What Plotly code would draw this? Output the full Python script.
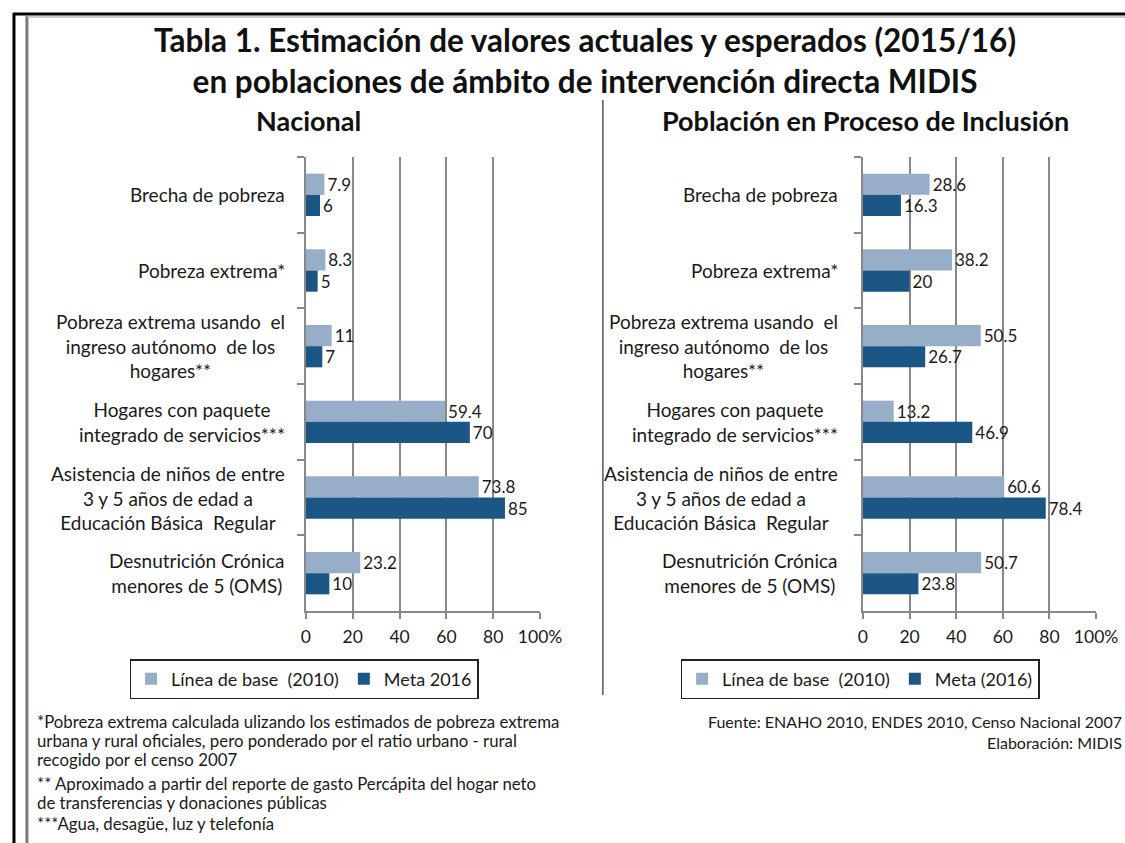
import plotly.graph_objects as go

# Reference picture size; the figure is drawn slightly wider so that it fills the
# photographed viewport horizontally.
RW, RH = 1125, 843
W, H = 1148, 843

categories = [
    "Brecha de pobreza",
    "Pobreza extrema*",
    "Pobreza extrema usando  el<br>ingreso autónomo  de los<br>hogares**",
    "Hogares con paquete<br>integrado de servicios***",
    "Asistencia de niños de entre<br>3 y 5 años de edad a<br>Educación Básica  Regular",
    "Desnutrición Crónica<br>menores de 5 (OMS)",
]

nac_base = [7.9, 8.3, 11, 59.4, 73.8, 23.2]
nac_meta = [6, 5, 7, 70, 85, 10]
inc_base = [28.6, 38.2, 50.5, 13.2, 60.6, 50.7]
inc_meta = [16.3, 20, 26.7, 46.9, 78.4, 23.8]

x_ticks = [0, 20, 40, 60, 80, 100]
x_tick_labels = ["0", "20", "40", "60", "80", "100%"]

LIGHT = "#97aec8"
DARK = "#1b5685"
GRID = "#888888"
TXT = "#1a1a1a"
FONT = "Lato"


def px(x):
    return x / RW


def py(y):
    return 1 - y / RH


fig = go.Figure()

fig.add_trace(go.Bar(y=categories, x=nac_base, orientation="h", name="Línea de base  (2010)",
                     marker=dict(color=LIGHT), text=[str(v) for v in nac_base],
                     textposition="outside", cliponaxis=False, constraintext="none",
                     xaxis="x", yaxis="y", legend="legend"))
fig.add_trace(go.Bar(y=categories, x=nac_meta, orientation="h", name="Meta 2016",
                     marker=dict(color=DARK), text=[str(v) for v in nac_meta],
                     textposition="outside", cliponaxis=False, constraintext="none",
                     xaxis="x", yaxis="y", legend="legend"))
fig.add_trace(go.Bar(y=categories, x=inc_base, orientation="h", name="Línea de base  (2010)",
                     marker=dict(color=LIGHT), text=[str(v) for v in inc_base],
                     textposition="outside", cliponaxis=False, constraintext="none",
                     xaxis="x2", yaxis="y2", legend="legend2"))
fig.add_trace(go.Bar(y=categories, x=inc_meta, orientation="h", name="Meta (2016)",
                     marker=dict(color=DARK), text=[str(v) for v in inc_meta],
                     textposition="outside", cliponaxis=False, constraintext="none",
                     xaxis="x2", yaxis="y2", legend="legend2"))

fig.update_traces(textfont=dict(family=FONT, size=17, color=TXT), marker_line_width=0)

ydom = [py(611), py(157)]
xcommon = dict(range=[0, 100], tickvals=x_ticks, ticktext=x_tick_labels, showgrid=True,
               gridcolor=GRID, gridwidth=2, showline=True, linecolor=GRID, linewidth=2,
               ticks="outside", ticklen=6, tickwidth=2, tickcolor=GRID, zeroline=False,
               tickfont=dict(family=FONT, size=17.5, color=TXT), ticklabelstandoff=3,
               fixedrange=True)
ycommon = dict(autorange="reversed", showgrid=False, showline=True, linecolor=GRID,
               linewidth=2, ticks="outside", ticklen=7, tickwidth=2, tickcolor=GRID,
               tickson="boundaries", showticklabels=False, domain=ydom, fixedrange=True)

legend_common = dict(orientation="h", xanchor="left", yanchor="top",
                     bordercolor="#222222", borderwidth=1.5, bgcolor="white",
                     font=dict(family=FONT, size=18, color=TXT), itemclick=False,
                     itemdoubleclick=False, itemwidth=30, tracegroupgap=0)

fig.update_layout(
    width=W, height=H, autosize=False,
    margin=dict(l=0, r=0, t=0, b=0),
    paper_bgcolor="white", plot_bgcolor="white",
    barmode="group", bargap=0.44, bargroupgap=0,
    xaxis=dict(domain=[px(302), px(537)], anchor="y", **xcommon),
    yaxis=dict(anchor="x", **ycommon),
    xaxis2=dict(domain=[px(861), px(1095)], anchor="y2", **xcommon),
    yaxis2=dict(anchor="x2", **ycommon),
    legend=dict(x=px(125), y=py(659), **legend_common),
    legend2=dict(x=px(678), y=py(659), **legend_common),
    showlegend=True,
)

annotations = []
# Titles
annotations.append(dict(text="<b>Tabla 1. Estimación de valores actuales y esperados (2015/16)</b>"
                             "<br><b>en poblaciones de ámbito de intervención directa MIDIS</b>",
                        x=px(582), y=py(61), xref="paper", yref="paper", showarrow=False,
                        xanchor="center", yanchor="middle", align="center",
                        font=dict(family=FONT, size=31.5, color="#111111")))
annotations.append(dict(text="<b>Nacional</b>", x=px(305), y=py(121), xref="paper", yref="paper",
                        showarrow=False, xanchor="center", yanchor="middle",
                        font=dict(family=FONT, size=27, color="#111111")))
annotations.append(dict(text="<b>Población en Proceso de Inclusión</b>", x=px(864), y=py(121),
                        xref="paper", yref="paper", showarrow=False, xanchor="center",
                        yanchor="middle", font=dict(family=FONT, size=27, color="#111111")))

# Category labels (centered multi-line, right anchored)
for cat in categories:
    annotations.append(dict(text=cat, x=px(283), y=cat, xref="paper", yref="y", showarrow=False,
                            xanchor="right", yanchor="middle", align="center",
                            font=dict(family=FONT, size=19, color=TXT)))
    annotations.append(dict(text=cat, x=px(838), y=cat, xref="paper", yref="y2", showarrow=False,
                            xanchor="right", yanchor="middle", align="center",
                            font=dict(family=FONT, size=19, color=TXT)))

# Footnotes
notes = [
    ("*Pobreza extrema calculada ulizando los estimados de pobreza extrema", 721),
    ("urbana y rural oficiales, pero ponderado por el ratio urbano - rural", 740),
    ("recogido por el censo 2007", 759),
    ("** Aproximado a partir del reporte de gasto Percápita del hogar neto", 783),
    ("de transferencias y donaciones públicas", 802),
    ("***Agua, desagüe, luz y telefonía", 823),
]
for t, yy in notes:
    annotations.append(dict(text=t, x=px(30), y=py(yy), xref="paper", yref="paper",
                            showarrow=False, xanchor="left", yanchor="middle", align="left",
                            font=dict(family=FONT, size=16.8, color=TXT)))

annotations.append(dict(text="Fuente: ENAHO 2010, ENDES 2010, Censo Nacional 2007",
                        x=px(1123), y=py(721), xref="paper", yref="paper", showarrow=False,
                        xanchor="right", yanchor="middle",
                        font=dict(family=FONT, size=16, color=TXT)))
annotations.append(dict(text="Elaboración: MIDIS", x=px(1123), y=py(742), xref="paper",
                        yref="paper", showarrow=False, xanchor="right", yanchor="middle",
                        font=dict(family=FONT, size=16, color=TXT)))

fig.update_layout(annotations=annotations)

shapes = [
    # outer black frame
    dict(type="line", xref="paper", yref="paper", x0=px(9), x1=px(9), y0=py(13), y1=py(843),
         line=dict(color="black", width=3)),
    dict(type="line", xref="paper", yref="paper", x0=px(8), x1=1, y0=py(14), y1=py(14),
         line=dict(color="black", width=3)),
    # inner gray frame
    dict(type="line", xref="paper", yref="paper", x0=px(22), x1=px(22), y0=py(16), y1=py(843),
         line=dict(color="#7a7a7a", width=3)),
    dict(type="line", xref="paper", yref="paper", x0=px(22), x1=1, y0=py(17), y1=py(17),
         line=dict(color="#bbbbbb", width=1.5)),
    # divider
    dict(type="line", xref="paper", yref="paper", x0=px(600), x1=px(600), y0=py(100), y1=py(695),
         line=dict(color="#555555", width=1.5)),
]
fig.update_layout(shapes=shapes)

fig.write_html(
    "out.html",
    config={"displayModeBar": False, "responsive": False},
    post_script="document.body.style.margin='0';document.body.style.padding='0';"
                "document.documentElement.style.overflow='hidden';",
)
